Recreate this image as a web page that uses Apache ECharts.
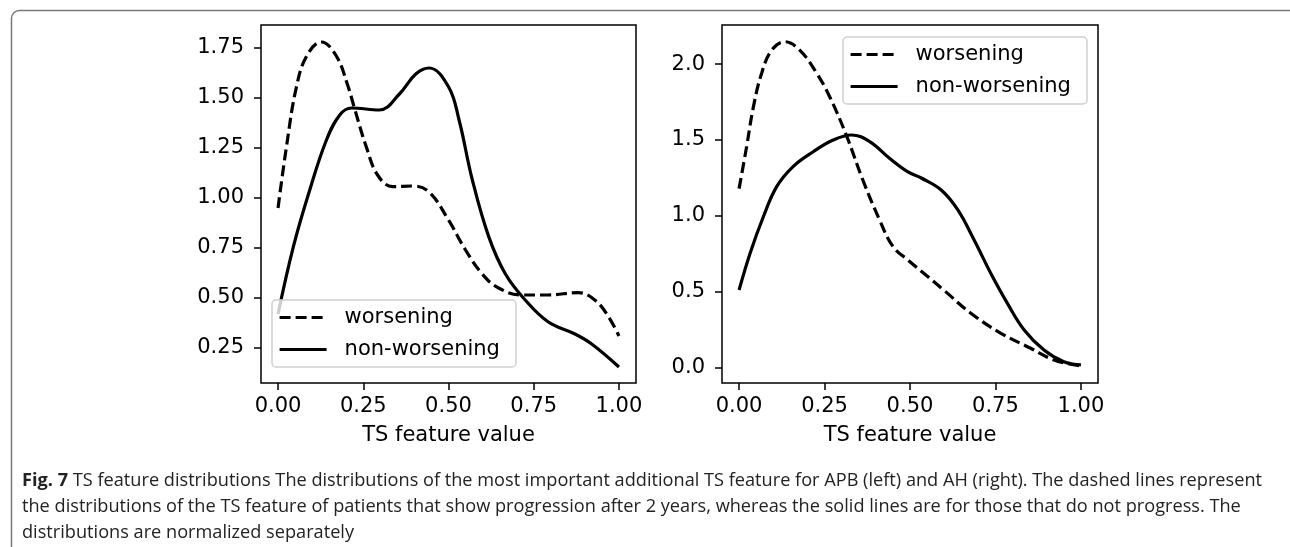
<!DOCTYPE html>
<html>
<head>
<meta charset="utf-8">
<script src="https://cdn.jsdelivr.net/npm/echarts@6/dist/echarts.min.js"></script>
<style>
  html, body { margin: 0; padding: 0; background: #fff; }
  #main { width: 1290px; height: 547px; }
</style>
</head>
<body>
<div id="main"></div>
<script>
// APB (left panel)
var apbWorseX = [0, 0.025, 0.054, 0.084, 0.127, 0.171, 0.205, 0.224, 0.258, 0.292, 0.336, 0.395, 0.443, 0.5, 0.55, 0.599, 0.647, 0.715, 0.793, 0.88, 0.929, 0.968, 1.0];
var apbWorseY = [0.95, 1.26, 1.556, 1.71, 1.78, 1.71, 1.56, 1.45, 1.26, 1.115, 1.057, 1.06, 1.03, 0.89, 0.74, 0.62, 0.55, 0.515, 0.515, 0.527, 0.49, 0.41, 0.31];
var apbNonX = [0, 0.045, 0.093, 0.142, 0.181, 0.215, 0.297, 0.356, 0.404, 0.443, 0.5, 0.531, 0.57, 0.618, 0.667, 0.725, 0.793, 0.871, 0.92, 1.0];
var apbNonY = [0.42, 0.757, 1.04, 1.29, 1.415, 1.45, 1.44, 1.52, 1.62, 1.65, 1.556, 1.39, 1.09, 0.807, 0.62, 0.49, 0.38, 0.32, 0.27, 0.155];

// AH (right panel)
var ahWorseX = [0, 0.022, 0.042, 0.066, 0.095, 0.134, 0.178, 0.227, 0.265, 0.314, 0.362, 0.411, 0.45, 0.494, 0.542, 0.6, 0.678, 0.766, 0.853, 0.921, 1.0];
var ahWorseY = [1.18, 1.456, 1.72, 1.94, 2.09, 2.147, 2.09, 1.94, 1.785, 1.53, 1.237, 0.974, 0.8, 0.71, 0.62, 0.51, 0.36, 0.228, 0.13, 0.053, 0.013];
var ahNonX = [0, 0.032, 0.071, 0.11, 0.158, 0.217, 0.275, 0.329, 0.382, 0.44, 0.494, 0.533, 0.592, 0.64, 0.688, 0.737, 0.785, 0.834, 0.892, 0.95, 1.0];
var ahNonY = [0.513, 0.754, 0.995, 1.193, 1.325, 1.423, 1.5, 1.533, 1.49, 1.38, 1.29, 1.25, 1.17, 1.04, 0.84, 0.62, 0.425, 0.25, 0.118, 0.041, 0.02];

var xTicks = [0, 0.25, 0.5, 0.75, 1.0];
var apbYTicks = [0.25, 0.5, 0.75, 1.0, 1.25, 1.5, 1.75];
var ahYTicks = [0.0, 0.5, 1.0, 1.5, 2.0];
var seriesNames = ['worsening', 'non-worsening'];

var captionLines = [
  ' TS feature distributions The distributions of the most important additional TS feature for APB (left) and AH (right). The dashed lines represent',
  'the distributions of the TS feature of patients that show progression after 2 years, whereas the solid lines are for those that do not progress. The',
  'distributions are normalized separately'
];

function zip(xs, ys) {
  return xs.map(function (x, i) { return [x, ys[i]]; });
}

var tickFont = 'DejaVu Sans';
var capFont = '"Open Sans", sans-serif';

// squeeze the caption to the width it takes in the figure
var cv = document.createElement('canvas').getContext('2d');
cv.font = 'bold 18px ' + capFont;
var w1 = cv.measureText('Fig. 7').width;
cv.font = '18px ' + capFont;
w1 += cv.measureText(captionLines[0]).width;
var capScale = 1240 / w1;

function xAxisFor(idx) {
  return {
    type: 'value', gridIndex: idx, min: -0.05, max: 1.05,
    name: 'TS feature value', nameLocation: 'middle', nameGap: 42,
    nameTextStyle: { fontFamily: tickFont, fontSize: 21, color: '#000' },
    axisLine: { show: false, onZero: false },
    splitLine: { show: false },
    axisTick: { show: true, length: 7, customValues: xTicks, lineStyle: { color: '#000', width: 1.5 } },
    axisLabel: {
      customValues: xTicks, margin: 13, fontFamily: tickFont, fontSize: 21, color: '#000',
      formatter: function (v) { return v.toFixed(2); }
    }
  };
}

function yAxisFor(idx, min, max, ticks, dec) {
  return {
    type: 'value', gridIndex: idx, min: min, max: max,
    axisLine: { show: false, onZero: false },
    splitLine: { show: false },
    axisTick: { show: true, length: 7, customValues: ticks, lineStyle: { color: '#000', width: 1.5 } },
    axisLabel: {
      customValues: ticks, margin: 17, fontFamily: tickFont, fontSize: 21, color: '#000',
      formatter: function (v) { return v.toFixed(dec); }
    }
  };
}

function lineSeries(name, idx, data, dashed) {
  return {
    name: name, type: 'line', xAxisIndex: idx, yAxisIndex: idx,
    data: data, smooth: 0.4, symbol: 'none', silent: true,
    lineStyle: { color: '#000', width: 3.2, type: dashed ? [11, 5] : 'solid' },
    itemStyle: { color: '#000' }
  };
}

function legendAt(left, top) {
  return {
    data: seriesNames, orient: 'vertical', left: left, top: top,
    itemWidth: 47, itemHeight: 14, itemGap: 11,
    padding: [7, 16, 7, 6],
    backgroundColor: 'rgba(255,255,255,0.8)',
    borderColor: '#d0d0d0', borderWidth: 1.5, borderRadius: 4,
    itemStyle: { opacity: 0 },
    lineStyle: { width: 3.2 },
    textStyle: { fontFamily: tickFont, fontSize: 21, color: '#000', padding: [0, 0, 0, 13] },
    selectedMode: false
  };
}

var chart = echarts.init(document.getElementById('main'));
var option = {
  backgroundColor: '#fff',
  animation: false,
  grid: [
    { left: 261, top: 25, width: 375, height: 358, show: true, borderColor: '#000', borderWidth: 1.5, backgroundColor: 'transparent' },
    { left: 722, top: 25, width: 376, height: 358, show: true, borderColor: '#000', borderWidth: 1.5, backgroundColor: 'transparent' }
  ],
  xAxis: [xAxisFor(0), xAxisFor(1)],
  yAxis: [
    yAxisFor(0, 0.075, 1.865, apbYTicks, 2),
    yAxisFor(1, -0.099, 2.257, ahYTicks, 1)
  ],
  legend: [legendAt(272, 300), legendAt(843, 37)],
  series: [
    lineSeries('worsening', 0, zip(apbWorseX, apbWorseY), true),
    lineSeries('non-worsening', 0, zip(apbNonX, apbNonY), false),
    lineSeries('worsening', 1, zip(ahWorseX, ahWorseY), true),
    lineSeries('non-worsening', 1, zip(ahNonX, ahNonY), false)
  ],
  graphic: [
    {
      type: 'rect', left: 9, top: 8, silent: true,
      shape: { x: 0, y: 0, width: 1320, height: 600, r: [8, 0, 0, 0] },
      style: { fill: 'none', stroke: '#777', lineWidth: 1.5 }
    },
    {
      type: 'text', x: 22, y: 481, scaleX: capScale, silent: true,
      style: {
        text: '{b|Fig. 7}' + captionLines[0],
        font: '18px ' + capFont, fill: '#222', verticalAlign: 'middle',
        rich: { b: { fontFamily: capFont, fontWeight: 'bold', fontSize: 18, fill: '#222' } }
      }
    },
    {
      type: 'text', x: 22, y: 507, scaleX: capScale, silent: true,
      style: { text: captionLines[1], font: '18px ' + capFont, fill: '#222', verticalAlign: 'middle' }
    },
    {
      type: 'text', x: 22, y: 533, scaleX: capScale, silent: true,
      style: { text: captionLines[2], font: '18px ' + capFont, fill: '#222', verticalAlign: 'middle' }
    }
  ]
};
chart.setOption(option);
</script>
</body>
</html>
